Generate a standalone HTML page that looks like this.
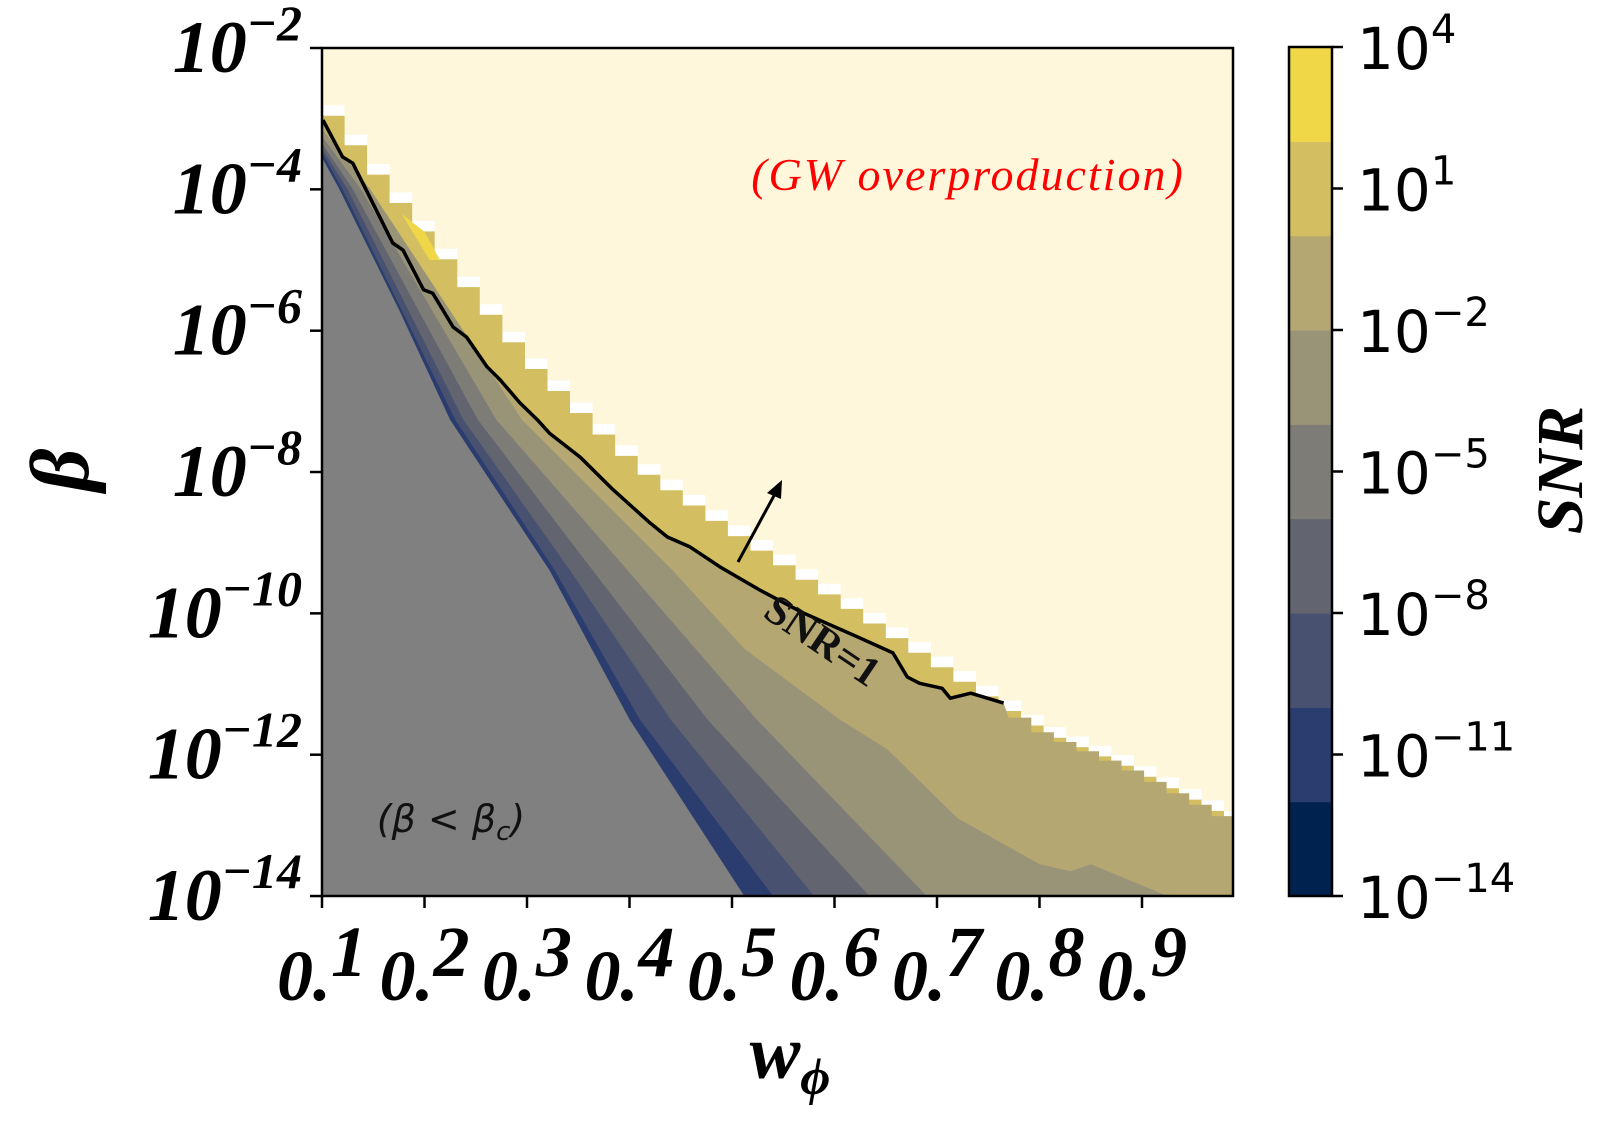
<!DOCTYPE html>
<html><head><meta charset="utf-8">
<style>
html,body{margin:0;padding:0;background:#fff;}
svg{display:block;}
.tl{font-family:"Liberation Serif",serif;font-weight:bold;font-style:italic;fill:#000;}
.cb{font-family:"DejaVu Sans","Liberation Sans",sans-serif;fill:#000;}
</style></head>
<body>
<svg id="chart" width="1610" height="1131" viewBox="0 0 1610 1131" xmlns="http://www.w3.org/2000/svg">
<defs><clipPath id="plotclip"><rect x="322" y="48" width="911" height="848"/></clipPath></defs>
<g id="plot" clip-path="url(#plotclip)"></g>
<rect x="322" y="48" width="911" height="848" fill="none" stroke="#000" stroke-width="2.5"/>
<g id="axes"></g>
<g id="cbar"></g>
<text class="tl" font-size="84" transform="translate(88,470) rotate(-90)" text-anchor="middle">β</text>
<text class="tl" font-size="76" x="790" y="1078" text-anchor="middle">w<tspan font-size="52" dy="16">ϕ</tspan></text>
<text class="tl" font-size="66" transform="translate(1582,470) rotate(-90)" text-anchor="middle">SNR</text>
<text font-family="Liberation Serif,serif" font-style="italic" font-size="46" letter-spacing="2" fill="#ff0000" x="968" y="190" text-anchor="middle">(GW overproduction)</text>
<text font-family="DejaVu Sans,sans-serif" font-style="italic" font-size="38" fill="#111" x="451" y="832" text-anchor="middle">(β &lt; β<tspan font-size="26" dy="8">c</tspan><tspan dy="-8">)</tspan></text>
<text font-family="Liberation Serif,serif" font-weight="bold" font-size="42" fill="#111" transform="translate(815,652) rotate(34)" text-anchor="middle">SNR=1</text>
<g>
<line x1="738" y1="562" x2="776" y2="492" stroke="#000" stroke-width="3"/>
<polygon points="782,480 767,493 781,499" fill="#000"/>
</g>
</svg>
<script>
// ---- data (w_phi, log10 beta) ----
const edgeW=[0.1,0.15,0.202,0.254,0.306,0.359,0.41,0.501,0.597,0.725,0.805,0.885,0.99];
const edgeL=[-2.7,-3.65,-4.6,-5.53,-6.45,-7.2,-7.9,-8.8,-9.7,-10.9,-11.65,-12.13,-12.9];
const snrW=[0.101,0.12,0.13,0.169,0.179,0.199,0.208,0.228,0.241,0.261,0.274,0.293,0.31,0.322,0.352,0.384,0.42,0.437,0.459,0.488,0.527,0.569,0.622,0.657,0.671,0.683,0.705,0.713,0.733,0.765];
const snrL=[-3.02,-3.54,-3.63,-4.76,-4.86,-5.42,-5.47,-5.95,-6.09,-6.51,-6.7,-7.02,-7.26,-7.45,-7.79,-8.25,-8.72,-8.92,-9.06,-9.34,-9.67,-9.99,-10.33,-10.56,-10.9,-10.99,-11.06,-11.2,-11.13,-11.27];
const hiW=[0.178,0.2,0.215,0.205];
const hiL=[-4.35,-4.6,-5.0,-5.0];
const lvlM2W=[0.1,0.147,0.295,0.442,0.512,0.605,0.652,0.72,0.8,0.83,0.85,0.9,0.925];
const lvlM2L=[-3.15,-4.0,-7.26,-9.39,-10.5,-11.5,-11.93,-12.9,-13.55,-13.65,-13.55,-13.85,-14];
const lvlM4W=[0.1,0.138,0.27,0.398,0.524,0.69];
const lvlM4L=[-3.25,-4.0,-7.26,-9.39,-11.5,-14];
const lvlM6W=[0.1,0.13,0.252,0.364,0.476,0.634];
const lvlM6L=[-3.35,-4.0,-7.26,-9.39,-11.5,-14];
const lvlM8W=[0.1,0.125,0.238,0.342,0.44,0.58];
const lvlM8L=[-3.42,-4.0,-7.26,-9.39,-11.5,-14];
const lvlM10W=[0.1,0.12,0.23,0.327,0.41,0.54];
const lvlM10L=[-3.48,-4.0,-7.26,-9.39,-11.5,-14];
const critW=[0.1,0.117,0.175,0.225,0.322,0.4,0.512];
const critL=[-3.55,-4.0,-5.7,-7.26,-9.39,-11.5,-14];
const yTicks=[-2,-4,-6,-8,-10,-12,-14];
const xTicks=[0.1,0.2,0.3,0.4,0.5,0.6,0.7,0.8,0.9];
const cbColors=["#00224e","#2a3d6e","#485270","#62656f","#7e7c77","#999378","#b5a772","#d3bf62","#f0d748"];
const cbTicks=[4,1,-2,-5,-8,-11,-14];

const NS="http://www.w3.org/2000/svg";
const WMAX=0.989;
function X(w){return 322+(w-0.1)*1025;}
function Y(L){return 48+(-2-L)*70.67;}
function interp(W,L,w){
  if(w<=W[0])return L[0];
  for(let i=1;i<W.length;i++){if(w<=W[i]){const t=(w-W[i-1])/(W[i]-W[i-1]);return L[i-1]+t*(L[i]-L[i-1]);}}
  return L[L.length-1];
}
function stairs(W,L,dl,w0,w1){
  const pts=[];const dw=0.022;
  for(let w=w0;w<w1-1e-9;w+=dw){
    const l=interp(W,L,w+dw*0.5)+dl;
    pts.push([w,l]);pts.push([Math.min(w+dw,w1),l]);
  }
  return pts;
}
function poly(parent,pts,fill,name){
  const p=document.createElementNS(NS,'polygon');
  p.setAttribute('points',pts.map(q=>X(q[0]).toFixed(1)+','+Y(q[1]).toFixed(1)).join(' '));
  p.setAttribute('fill',fill);
  
  
  parent.appendChild(p);
}
function zip(W,L,dl){return W.map((w,i)=>[w,L[i]+(dl||0)]);}
const plot=document.getElementById('plot');
poly(plot,[[0.1,-2],[WMAX,-2],[WMAX,-14],[0.1,-14]],"#fef7dc","overproduction-region");
poly(plot,[[0.1,edgeL[0]+0.1]].concat(stairs(edgeW,edgeL,0.1,0.1,WMAX)).concat([[WMAX,-14],[0.1,-14]]),"#ffffff","edge-gap");
poly(plot,[[0.1,edgeL[0]-0.05]].concat(stairs(edgeW,edgeL,-0.05,0.1,WMAX)).concat([[WMAX,-14],[0.1,-14]]),cbColors[7],"band-0-to-2");
poly(plot,zip(hiW,hiL),cbColors[8],"band-2-to-4");
let b=zip(snrW,snrL);
const tail=stairs(edgeW,edgeL,-0.05,0.77,WMAX);
b.push([0.77,tail[0][1]]);
tail.forEach(q=>b.push(q));
b.push([WMAX,-14],[0.1,-14]);
poly(plot,b,cbColors[6],"band-m2-to-0");
poly(plot,zip(lvlM2W,lvlM2L).concat([[0.1,-14]]),cbColors[5],"band-m4-to-m2");
poly(plot,zip(lvlM4W,lvlM4L).concat([[0.1,-14]]),cbColors[4],"band-m6-to-m4");
poly(plot,zip(lvlM6W,lvlM6L).concat([[0.1,-14]]),cbColors[3],"band-m8-to-m6");
poly(plot,zip(lvlM8W,lvlM8L).concat([[0.1,-14]]),cbColors[2],"band-m10-to-m8");
poly(plot,zip(lvlM10W,lvlM10L).concat([[0.1,-14]]),cbColors[1],"band-m12-to-m10");
poly(plot,zip(critW,critL).concat([[0.1,-14]]),"#808080","beta-below-critical-region");
const pl=document.createElementNS(NS,'polyline');
pl.setAttribute('points',snrW.map((w,i)=>X(w).toFixed(1)+','+Y(snrL[i]).toFixed(1)).join(' '));
pl.setAttribute('fill','none');pl.setAttribute('stroke','#000');pl.setAttribute('stroke-width','3.5');pl.setAttribute('stroke-linejoin','round');


plot.appendChild(pl);

const axes=document.getElementById('axes');
function line(parent,x1,y1,x2,y2,name){
  const l=document.createElementNS(NS,'line');
  l.setAttribute('x1',x1);l.setAttribute('y1',y1);l.setAttribute('x2',x2);l.setAttribute('y2',y2);
  l.setAttribute('stroke','#000');l.setAttribute('stroke-width','2.5');
  
  
  parent.appendChild(l);
}
yTicks.forEach(L=>{
  const y=Y(L);
  line(axes,310,y,322,y,'y-tick');
  const t=document.createElementNS(NS,'text');
  t.setAttribute('class','tl');t.setAttribute('x',302);t.setAttribute('y',y+24);t.setAttribute('text-anchor','end');t.setAttribute('font-size','74');
  t.innerHTML='10<tspan font-size="50" dy="-32">−'+(-L)+'</tspan>';
  
  
  axes.appendChild(t);
});
xTicks.forEach(w=>{
  const x=X(w);
  line(axes,x,896,x,908,'x-tick');
  const t=document.createElementNS(NS,'text');
  t.setAttribute('class','tl');t.setAttribute('x',x-45);t.setAttribute('y',1000);t.setAttribute('font-size','72');
  const s=w.toFixed(1);
  t.innerHTML=s.slice(0,2)+'<tspan dy="-24">'+s.slice(2)+'</tspan>';
  
  
  axes.appendChild(t);
});
const cb=document.getElementById('cbar');
const cbTop=47,cbBot=896,cbH=(cbBot-cbTop)/cbColors.length;
cbColors.forEach((c,i)=>{
  const r=document.createElementNS(NS,'rect');
  r.setAttribute('x',1289);r.setAttribute('y',(cbBot-(i+1)*cbH).toFixed(1));r.setAttribute('width',43);r.setAttribute('height',(cbH+0.6).toFixed(1));r.setAttribute('fill',c);
  
  
  cb.appendChild(r);
});
const fr=document.createElementNS(NS,'rect');
fr.setAttribute('x',1289);fr.setAttribute('y',cbTop);fr.setAttribute('width',43);fr.setAttribute('height',cbBot-cbTop);fr.setAttribute('fill','none');fr.setAttribute('stroke','#000');fr.setAttribute('stroke-width','2.5');


cb.appendChild(fr);
cbTicks.forEach(v=>{
  const y=cbBot-(v+14)/18*(cbBot-cbTop);
  line(cb,1332,y,1343,y,'colorbar-tick');
  const t=document.createElementNS(NS,'text');
  t.setAttribute('class','cb');t.setAttribute('x',1357);t.setAttribute('y',y+22);t.setAttribute('font-size','58');
  t.innerHTML='10<tspan font-size="40" dy="-26">'+(v<0?'−'+(-v):v)+'</tspan>';
  
  
  cb.appendChild(t);
});
</script>
</body></html>
